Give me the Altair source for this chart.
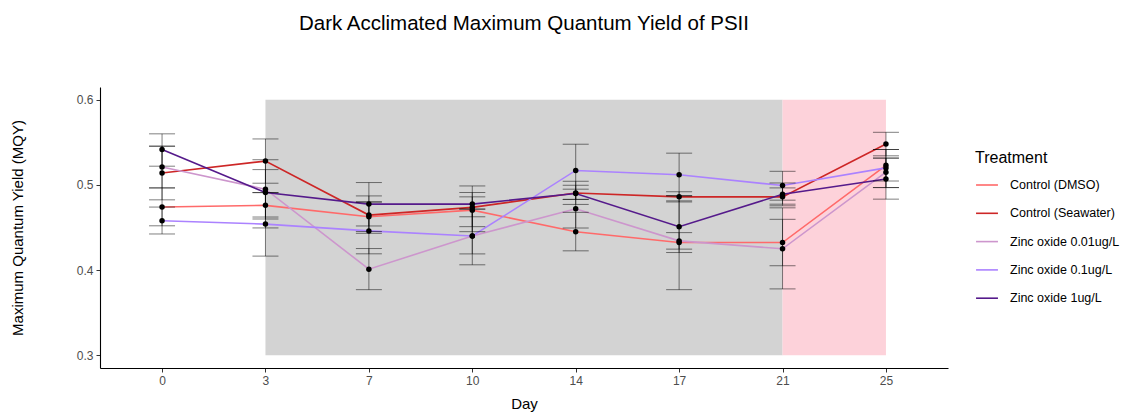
import altair as alt
import pandas as pd

# Sampling days (evenly spaced categories on the x axis)
days = [0, 3, 7, 10, 14, 17, 21, 25]

treatments = [
    "Control (DMSO)",
    "Control (Seawater)",
    "Zinc oxide 0.01ug/L",
    "Zinc oxide 0.1ug/L",
    "Zinc oxide 1ug/L",
]
colors = ["#FF6A6A", "#CD2626", "#CD96CD", "#AB82FF", "#551A8B"]

# Mean maximum quantum yield per treatment and day
mqy_dmso = [0.474, 0.476, 0.4626, 0.4704, 0.4451, 0.4323, 0.4323, 0.523]
mqy_seawater = [0.514, 0.528, 0.4646, 0.4736, 0.4906, 0.486, 0.486, 0.548]
mqy_zn001 = [0.521, 0.495, 0.401, 0.440, 0.472, 0.4343, 0.425, 0.515]
mqy_zn01 = [0.458, 0.454, 0.446, 0.440, 0.517, 0.512, 0.4993, 0.520]
mqy_zn1 = [0.5416, 0.491, 0.4775, 0.4775, 0.490, 0.451, 0.489, 0.507]

# Error bar limits
lo_dmso = [0.452, 0.4495, 0.4453, 0.4451, 0.4226, 0.377, 0.4051, 0.5046]
hi_dmso = [0.4965, 0.491, 0.480, 0.486, 0.4678, 0.4876, 0.4596, 0.5416]
lo_seawater = [0.4825, 0.502, 0.4432, 0.451, 0.4771, 0.480, 0.4755, 0.5342]
hi_seawater = [0.5455, 0.554, 0.4871, 0.4911, 0.5043, 0.492, 0.4965, 0.5618]
lo_zn001 = [0.4965, 0.460, 0.377, 0.419, 0.4494, 0.4246, 0.3779, 0.4969]
hi_zn001 = [0.5455, 0.5296, 0.4253, 0.4716, 0.495, 0.444, 0.4731, 0.5315]
lo_zn01 = [0.4424, 0.4164, 0.4191, 0.4062, 0.483, 0.487, 0.4821, 0.4969]
hi_zn01 = [0.474, 0.491, 0.480, 0.4716, 0.5478, 0.5373, 0.516, 0.5416]
lo_zn1 = [0.522, 0.4623, 0.4518, 0.4626, 0.483, 0.4206, 0.4774, 0.4833]
hi_zn1 = [0.560, 0.518, 0.5028, 0.4988, 0.4996, 0.4813, 0.5023, 0.5315]

# Shaded exposure phases: exposure (grey) and recovery (pink)
exposure_days = [3, 21]
recovery_days = [21, 25]
exposure_fill = "#D3D3D3"
recovery_fill = "#FDD2DA"

means = [mqy_dmso, mqy_seawater, mqy_zn001, mqy_zn01, mqy_zn1]
lows = [lo_dmso, lo_seawater, lo_zn001, lo_zn01, lo_zn1]
highs = [hi_dmso, hi_seawater, hi_zn001, hi_zn01, hi_zn1]

rows = []
for t, m, lo, hi in zip(treatments, means, lows, highs):
    for d, v, a, b in zip(days, m, lo, hi):
        rows.append({"Day": d, "Treatment": t, "MQY": v, "lo": a, "hi": b})
df = pd.DataFrame(rows)

font = "Liberation Sans"
xscale = alt.Scale(type="point", domain=days, padding=0.6)
yscale = alt.Scale(domain=[0.285, 0.615], nice=False, zero=False)


def band(span, fill):
    frame = pd.DataFrame({"Day": [span[0]], "end": [span[1]],
                          "MQY": [0.3], "top": [0.6]})
    return alt.Chart(frame).mark_rect(color=fill).encode(
        x=alt.X("Day:O", scale=xscale),
        x2="end:O",
        y=alt.Y("MQY:Q", scale=yscale),
        y2="top:Q",
    )


x_enc = alt.X(
    "Day:O", scale=xscale, title="Day",
    axis=alt.Axis(labelAngle=0, labelAlign="center", labelBaseline="top",
                  titlePadding=10),
)
y_enc = alt.Y(
    "MQY:Q", scale=yscale, title="Maximum Quantum Yield (MQY)",
    axis=alt.Axis(values=[0.3, 0.4, 0.5, 0.6], format=".1f", titlePadding=51),
)

lines = alt.Chart(df).mark_line(strokeWidth=1.6).encode(
    x=x_enc,
    y=y_enc,
    color=alt.Color(
        "Treatment:N",
        scale=alt.Scale(domain=treatments, range=colors),
        legend=alt.Legend(
            title="Treatment", orient="none", legendX=875, legendY=63,
            symbolType="stroke", symbolSize=480, symbolStrokeWidth=1.6,
            titleFontSize=16, titleFontWeight="normal", titleColor="#000000",
            labelFontSize=12.5, labelColor="#000000", labelOffset=11,
            rowPadding=9.3, titlePadding=7, titleFont=font, labelFont=font,
        ),
    ),
)

stems = alt.Chart(df).mark_rule(color="black", opacity=0.5, strokeWidth=1).encode(
    x=alt.X("Day:O", scale=xscale),
    y=alt.Y("lo:Q", scale=yscale),
    y2="hi:Q",
)

cap_lo = alt.Chart(df).mark_tick(color="black", opacity=0.5, size=26, thickness=1,
                                 orient="horizontal").encode(
    x=alt.X("Day:O", scale=xscale),
    y=alt.Y("lo:Q", scale=yscale),
)
cap_hi = alt.Chart(df).mark_tick(color="black", opacity=0.5, size=26, thickness=1,
                                 orient="horizontal").encode(
    x=alt.X("Day:O", scale=xscale),
    y=alt.Y("hi:Q", scale=yscale),
)

points = alt.Chart(df).mark_circle(color="black", opacity=1, size=30).encode(
    x=alt.X("Day:O", scale=xscale),
    y=alt.Y("MQY:Q", scale=yscale),
)

chart = alt.layer(
    band(exposure_days, exposure_fill),
    band(recovery_days, recovery_fill),
    lines, stems, cap_lo, cap_hi, points,
).properties(
    width=848,
    height=281,
    background="white",
    title=alt.Title(
        "Dark Acclimated Maximum Quantum Yield of PSII",
        fontSize=20.5, font=font, fontWeight="normal", color="#000000",
        anchor="middle", frame="group", offset=53,
    ),
    autosize=alt.AutoSizeParams(type="none"),
    padding={"left": 100, "top": 87, "right": 182, "bottom": 44},
).configure_view(
    strokeWidth=0
).configure_axis(
    grid=False,
    domainColor="#000000",
    domainWidth=1.1,
    tickColor="#333333",
    tickSize=4,
    labelFont=font,
    labelFontSize=12,
    labelColor="#4D4D4D",
    labelPadding=3,
    titleFont=font,
    titleFontSize=15,
    titleFontWeight="normal",
    titleColor="#000000",
)

chart.save("out.html", embed_options={"renderer": "svg", "actions": False})
